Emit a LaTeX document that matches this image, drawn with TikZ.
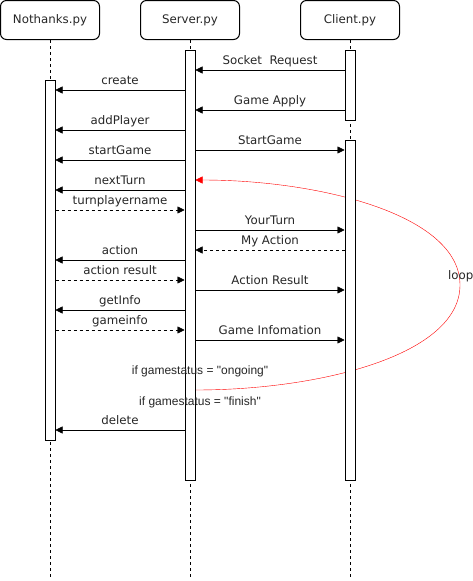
\documentclass[tikz,border=0pt]{standalone}
\usepackage{fontspec}
\setmainfont{DejaVu Sans}
\newfontfamily\arialfont{Liberation Sans}
\usetikzlibrary{arrows.meta,backgrounds}
\begin{document}
\begin{tikzpicture}[x=1pt,y=-1pt, line width=1pt,
  head/.style={draw, rounded corners=6pt, minimum width=99pt, minimum height=39pt, inner sep=0pt, font=\fontsize{11.8}{14}\selectfont, text=black!85},
  bar/.style={draw, fill=white, minimum width=10pt, inner sep=0pt, anchor=north},
  life/.style={dash pattern=on 3pt off 3pt},
  msg/.style={-{Triangle[length=7pt,width=7pt]}},
  ret/.style={msg, dash pattern=on 3pt off 3pt},
  lbl/.style={pos=0.5, anchor=base, yshift=5.5pt, font=\fontsize{11.8}{14}\selectfont, inner sep=0pt, text=black!85},
  note/.style={anchor=base, font=\arialfont\fontsize{12}{14}\selectfont, inner sep=0pt, text=black!85},
  loopline/.style={red, -{Triangle[length=7pt,width=7pt]}}
]
\useasboundingbox (0,0) rectangle (473,581);

% headers
\node[head] (hn) at (50,20) {Nothanks.py};
\node[head] (hs) at (190,20) {Server.py};
\node[head] (hc) at (350,20) {Client.py};

% activation bars
\node[bar, minimum height=360pt] (nb) at (50,80) {};
\node[bar, minimum height=430pt] (sb) at (190,50) {};
\node[bar, minimum height=70pt] (cb1) at (350,50) {};
\node[bar, minimum height=340pt] (cb2) at (350,140) {};

\coordinate (nend) at (50,578);
\coordinate (send) at (190,578);
\coordinate (cend) at (350,578);

\begin{pgfonlayer}{background}
  \draw[life] (hn.south) -- (nend);
  \draw[life] (hs.south) -- (send);
  \draw[life] (hc.south) -- (cend);
  \draw[loopline] (sb.east |- 0,390) .. controls (320,390) and (460,355) .. (460,285)
     .. controls (460,215) and (320,180) .. (sb.east |- 0,180);
\end{pgfonlayer}

% messages
\draw[msg] (cb1.west |- 0,70) -- (sb.east |- 0,70) node[lbl] {Socket\ \ Request};
\draw[msg] (sb.west |- 0,90) -- (nb.east |- 0,90) node[lbl] {create};
\draw[msg] (cb1.west |- 0,110) -- (sb.east |- 0,110) node[lbl] {Game Apply};
\draw[msg] (sb.west |- 0,130) -- (nb.east |- 0,130) node[lbl] {addPlayer};
\draw[msg] (sb.east |- 0,150) -- (cb2.west |- 0,150) node[lbl] {StartGame};
\draw[msg] (sb.west |- 0,160) -- (nb.east |- 0,160) node[lbl] {startGame};
\draw[msg] (sb.west |- 0,190) -- (nb.east |- 0,190) node[lbl] {nextTurn};
\draw[ret] (nb.east |- 0,210) -- (sb.west |- 0,210) node[lbl] {turnplayername};
\draw[msg] (sb.east |- 0,230) -- (cb2.west |- 0,230) node[lbl] {YourTurn};
\draw[ret] (cb2.west |- 0,250) -- (sb.east |- 0,250) node[lbl] {My Action};
\draw[msg] (sb.west |- 0,260) -- (nb.east |- 0,260) node[lbl] {action};
\draw[ret] (nb.east |- 0,280) -- (sb.west |- 0,280) node[lbl] {action result};
\draw[msg] (sb.east |- 0,290) -- (cb2.west |- 0,290) node[lbl] {Action Result};
\draw[msg] (sb.west |- 0,310) -- (nb.east |- 0,310) node[lbl] {getInfo};
\draw[ret] (nb.east |- 0,330) -- (sb.west |- 0,330) node[lbl] {gameinfo};
\draw[msg] (sb.east |- 0,340) -- (cb2.west |- 0,340) node[lbl] {Game Infomation};
\draw[msg] (sb.west |- 0,430) -- (nb.east |- 0,430) node[lbl] {delete};

% notes
\node[note] (n1) at (200,374.5) {if gamestatus = "ongoing"};
\node[note] (n2) at (200,405.5) {if gamestatus = "finish"};
\node[anchor=base west, inner sep=0pt, font=\fontsize{11.8}{14}\selectfont, text=black!85] (lp) at (448,279) {loop};
\end{tikzpicture}
\end{document}
